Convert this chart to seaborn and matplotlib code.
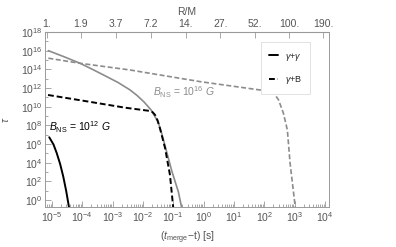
import numpy as np
import matplotlib
matplotlib.use("Agg")
import matplotlib.pyplot as plt
import seaborn as sns
from matplotlib.ticker import FixedLocator, NullLocator, LogLocator, NullFormatter

sns.set_style("ticks")
plt.rcParams['font.family'] = ['Liberation Sans', 'DejaVu Sans']
plt.rcParams['mathtext.fontset'] = 'custom'
plt.rcParams['mathtext.rm'] = 'Liberation Sans'
plt.rcParams['mathtext.it'] = 'Liberation Sans:italic'
plt.rcParams['mathtext.bf'] = 'Liberation Sans:bold'

# log10(t_merge - t) and log10(tau)
# B = 1e12 G, gamma+gamma
lt_gg12 = [-5.09, -4.95, -4.845, -4.73, -4.627, -4.53, -4.44, -4.38]
lw_gg12 = [6.72, 5.95, 5.04, 3.85, 2.50, 0.95, -0.75, -2.0]
# B = 1e12 G, gamma+B
lt_gb12 = [-5.13, -4.0, -2.59, -1.77, -1.683, -1.60, -1.518, -1.44, -1.27, -1.11, -1.0, -0.97]
lw_gb12 = [11.25, 10.65, 9.89, 9.54, 9.41, 9.11, 8.52, 7.68, 5.54, 2.68, -0.89, -2.0]
# B = 1e16 G, gamma+gamma
lt_gg16 = [-5.12, -4.604, -4.076, -3.68, -3.251, -2.822, -2.426, -2.195, -1.964, -1.733,
           -1.502, -1.386, -1.271, -1.05, -0.832, -0.72, -0.68]
lw_gg16 = [16.0, 15.35, 14.65, 14.02, 13.31, 12.59, 11.79, 11.2, 10.5, 9.65,
           8.36, 7.18, 5.79, 3.11, 0.86, -0.89, -2.0]
# B = 1e16 G, gamma+B
lt_gb16 = [-5.12, -4.08, -2.43, -0.115, 2.25, 2.36, 2.47, 2.63, 2.76, 2.85, 3.02, 3.05]
lw_gb16 = [15.19, 14.65, 13.93, 12.68, 11.61, 11.25, 10.72, 9.29, 7.5, 3.93, -0.75, -2.0]

rm_ticks = [1, 1.9, 3.7, 7.2, 14, 27, 52, 100, 190]
rm_labels = ["1.", "1.9", "3.7", "7.2", "14.", "27.", "52.", "100.", "190."]
t0 = 10 ** -5.17

gray = '#8c8c8c'
tickc = '#555555'
framec = '#9a9a9a'

fig = plt.figure(figsize=(3.96, 2.47), dpi=100)
ax = fig.add_axes([0.1136, 0.162, 0.717, 0.7085])

def p(lt, lw):
    return 10 ** np.array(lt), 10 ** np.array(lw)

x, y = p(lt_gg16, lw_gg16)
sns.lineplot(x=x, y=y, ax=ax, color=gray, lw=1.2, sort=False, estimator=None)
x, y = p(lt_gb16, lw_gb16)
sns.lineplot(x=x, y=y, ax=ax, color=gray, lw=1.2, ls=(0, (3, 1.5)), sort=False, estimator=None)
x, y = p(lt_gg12, lw_gg12)
sns.lineplot(x=x, y=y, ax=ax, color='black', lw=1.4, sort=False, estimator=None, label=r"$\gamma$+$\gamma$")
x, y = p(lt_gb12, lw_gb12)
sns.lineplot(x=x, y=y, ax=ax, color='black', lw=1.4, ls=(0, (3, 1.5)), sort=False, estimator=None, label=r"$\gamma$+B")

ax.set_xscale('log')
ax.set_yscale('log')
ax.set_xlim(10 ** -5.23, 10 ** 4.13)
ax.set_ylim(10 ** -0.75, 1e18)

ax.xaxis.set_major_locator(FixedLocator([10.0 ** k for k in range(-5, 5)]))
ax.xaxis.set_minor_locator(LogLocator(base=10, subs=np.arange(2, 10), numticks=30))
ax.xaxis.set_minor_formatter(NullFormatter())
ax.yaxis.set_major_locator(FixedLocator([10.0 ** k for k in range(0, 19, 2)]))
ax.yaxis.set_minor_locator(FixedLocator([10.0 ** k for k in range(1, 18, 2)]))
ax.yaxis.set_minor_formatter(NullFormatter())

for s in ax.spines.values():
    s.set_color(framec)
    s.set_linewidth(0.7)
ax.tick_params(which='both', direction='in', color=framec, labelcolor=tickc, width=0.6)
ax.tick_params(which='major', length=4, labelsize=7.5, pad=2)
ax.tick_params(which='minor', length=2)

sec = ax.secondary_xaxis('top', functions=(lambda t: (np.clip(t, 1e-30, None) / t0) ** 0.25,
                                            lambda r: t0 * np.asarray(r) ** 4))
sec.set_xticks(rm_ticks, rm_labels)
sec.xaxis.set_minor_locator(NullLocator())
sec.tick_params(direction='in', length=4, color=framec, labelcolor=tickc, labelsize=7.5, pad=2, width=0.6)
sec.spines['top'].set_color(framec)
sec.set_xlabel("R/M", fontsize=7.5, color=tickc, labelpad=3)

ax.set_xlabel(r"($t_{\mathrm{merge}}$−t) [s]", fontsize=7.5, color=tickc, labelpad=4)
ax.set_ylabel(r"$\tau$", fontsize=7.5, color=tickc)
ax.yaxis.set_label_coords(-0.12, 0.5)

ax.text(10 ** -5.1, 10 ** 7.8, r"$B_{\mathrm{NS}}$ = 10$^{12}$ $G$", fontsize=7.5, color='black', ha='left', va='center')
ax.text(10 ** -1.67, 10 ** 11.5, r"$B_{\mathrm{NS}}$ = 10$^{16}$ $G$", fontsize=7.5, color=gray, ha='left', va='center')

leg = ax.legend(loc='upper right', bbox_to_anchor=(0.951, 0.966), fontsize=6.5, handlelength=1.0,
                handletextpad=0.8, labelspacing=1.3, borderpad=0.9, fancybox=False, framealpha=1)
leg.get_frame().set_edgecolor('#dddddd')
leg.get_frame().set_linewidth(0.6)

fig.savefig("out.png", dpi=100)
